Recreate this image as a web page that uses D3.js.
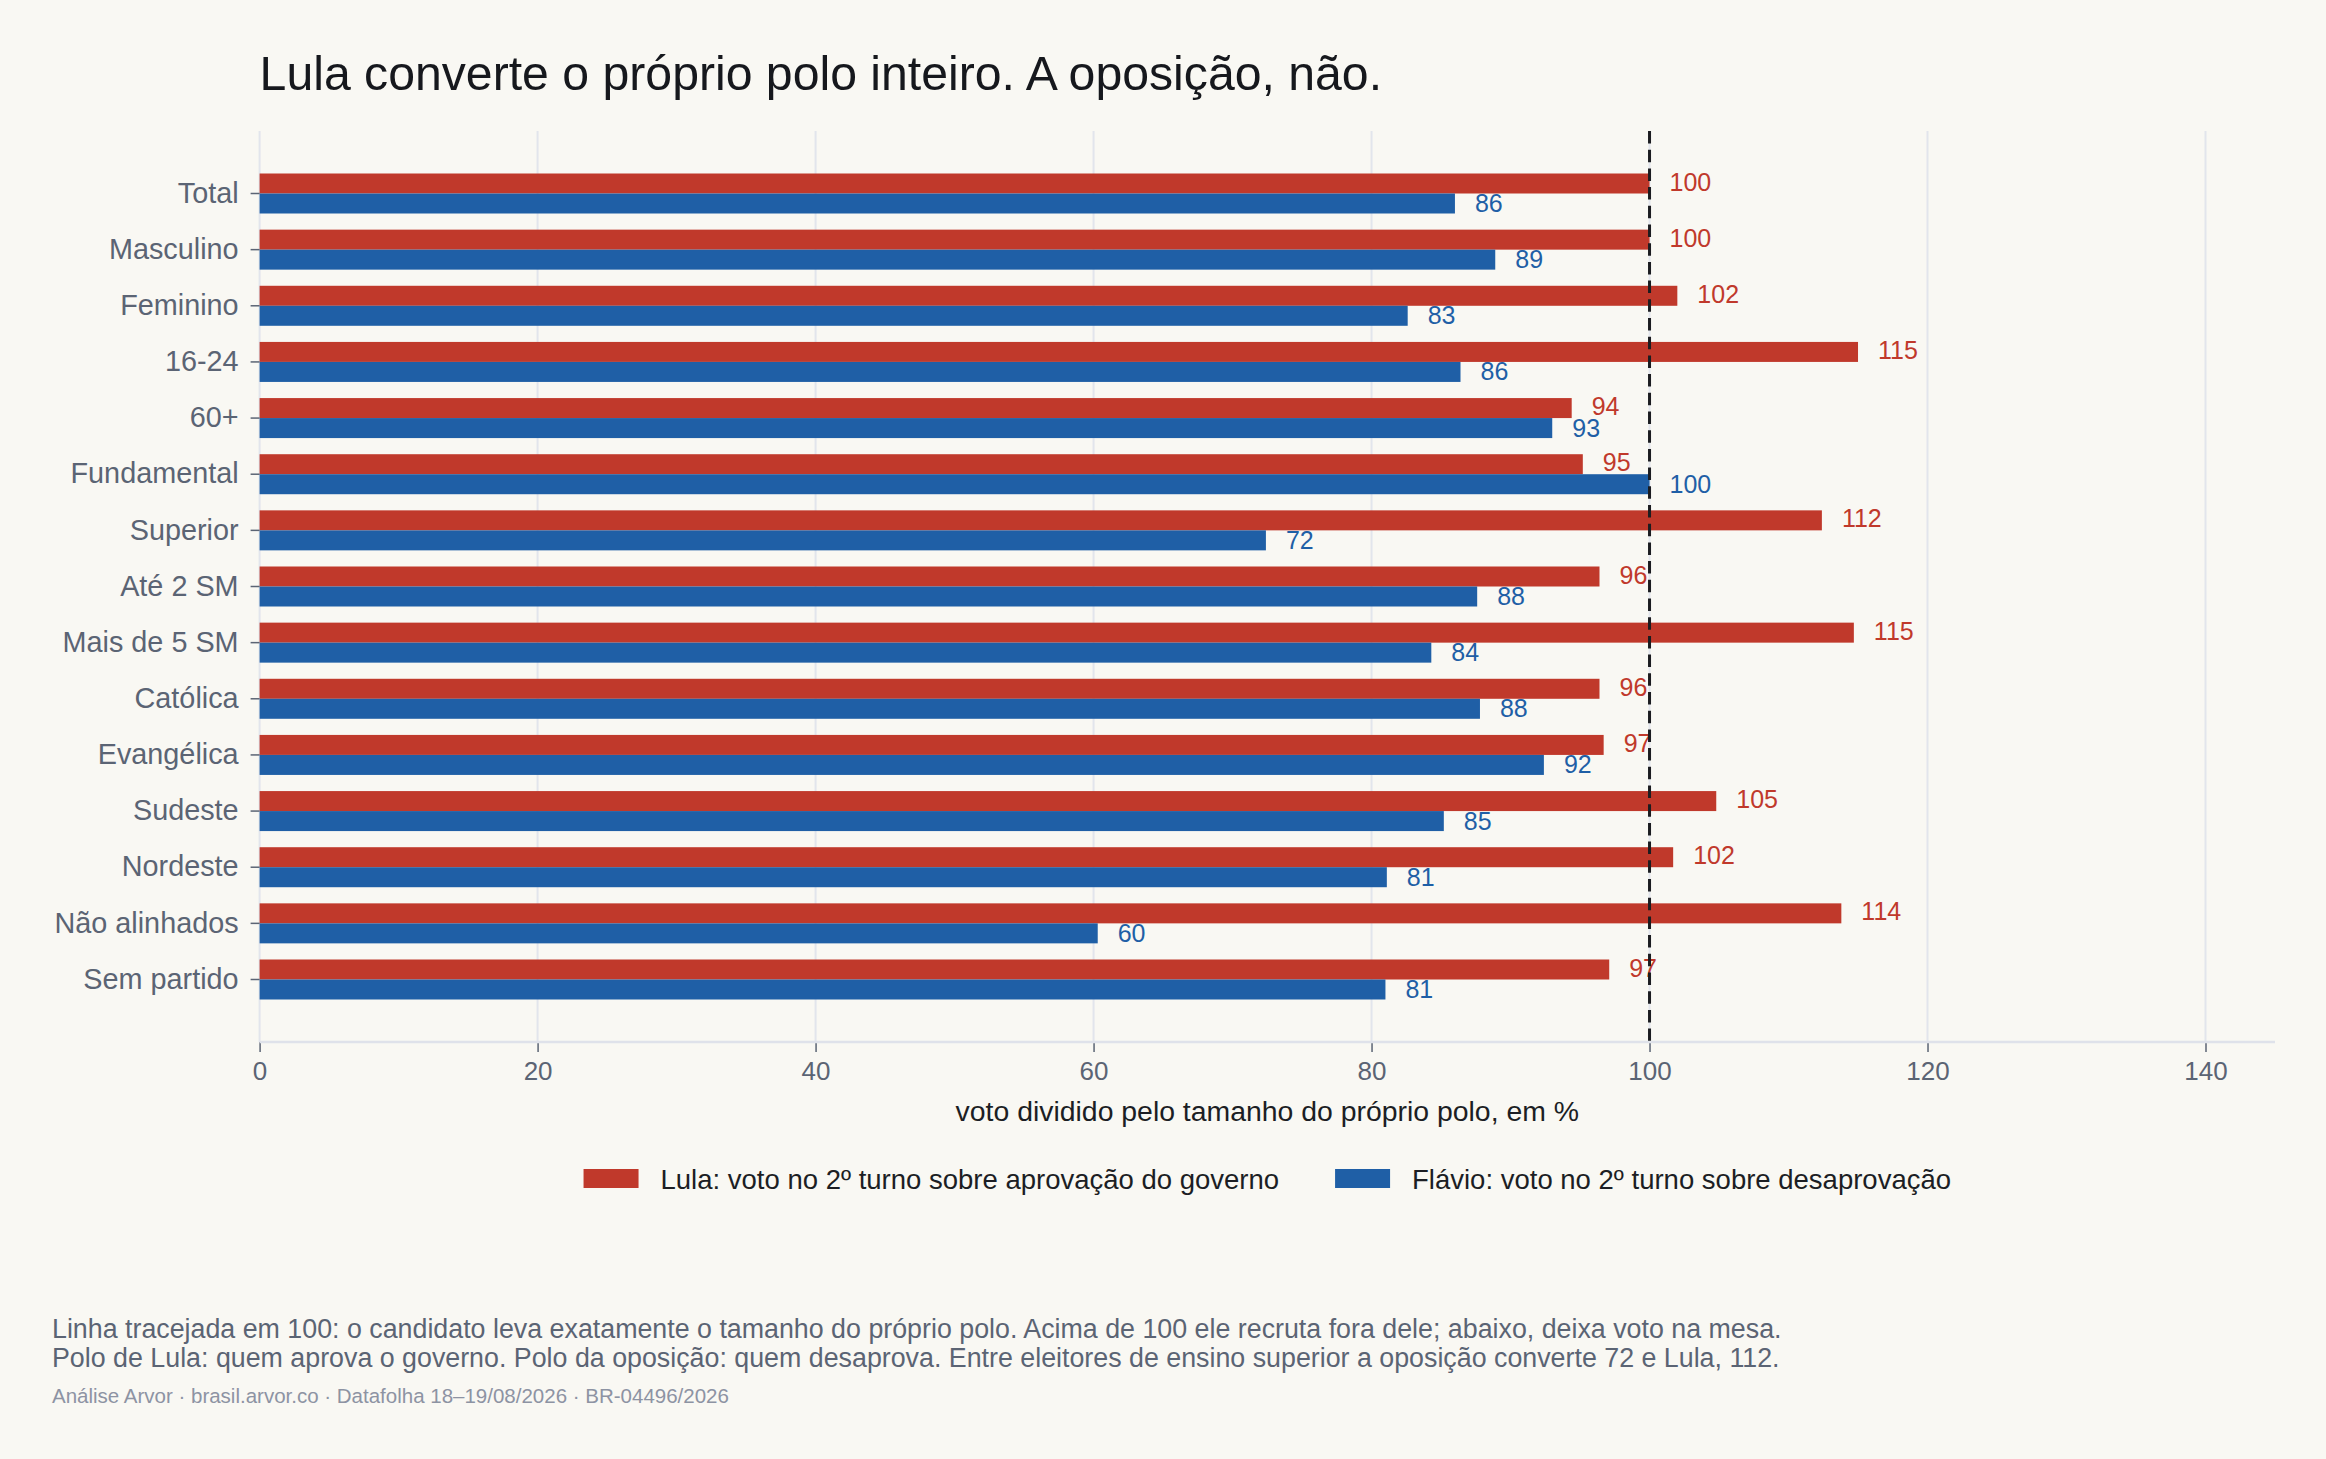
<!DOCTYPE html>
<html>
<head>
<meta charset="utf-8">
<script src="https://cdn.jsdelivr.net/npm/d3@7"></script>
<style>
  html, body { margin: 0; padding: 0; background: #f9f8f3; }
  svg { display: block; }
  text { font-family: "Liberation Sans", Arial, Helvetica, sans-serif; }
</style>
</head>
<body>
<script>
// ---- data ----
const categories = ["Total", "Masculino", "Feminino", "16-24", "60+", "Fundamental", "Superior",
  "Até 2 SM", "Mais de 5 SM", "Católica", "Evangélica", "Sudeste", "Nordeste", "Não alinhados", "Sem partido"];
const lulaValues   = [100.0, 100.0, 102.0, 115.0, 94.4, 95.2, 112.4, 96.4, 114.7, 96.4, 96.7, 104.8, 101.7, 113.8, 97.1];
const flavioValues = [86.0, 88.9, 82.6, 86.4, 93.0, 100.0, 72.4, 87.6, 84.3, 87.8, 92.4, 85.2, 81.1, 60.3, 81.0];
const seriesNames = ["Lula: voto no 2º turno sobre aprovação do governo", "Flávio: voto no 2º turno sobre desaprovação"];
const xTicks = [0, 20, 40, 60, 80, 100, 120, 140];
const referenceValue = 100;
const titleText = "Lula converte o próprio polo inteiro. A oposição, não.";
const xAxisTitle = "voto dividido pelo tamanho do próprio polo, em %";
const footerLines = [
  "Linha tracejada em 100: o candidato leva exatamente o tamanho do próprio polo. Acima de 100 ele recruta fora dele; abaixo, deixa voto na mesa.",
  "Polo de Lula: quem aprova o governo. Polo da oposição: quem desaprova. Entre eleitores de ensino superior a oposição converte 72 e Lula, 112."
];
const sourceText = "Análise Arvor · brasil.arvor.co · Datafolha 18–19/08/2026 · BR-04496/2026";

// ---- layout ----
const W = 2326, H = 1459;
const plot = { left: 259.6, right: 2275, top: 131, bottom: 1042 };
const colors = { lula: "#c0392b", flavio: "#1f5fa6" };
const seriesKeys = ["lula", "flavio"];

const rows = categories.map((c, i) => ({ cat: c, lula: lulaValues[i], flavio: flavioValues[i] }));

const svg = d3.select("body").append("svg").attr("width", W).attr("height", H);
svg.append("rect").attr("width", W).attr("height", H).attr("fill", "#f9f8f3");

const x = d3.scaleLinear().domain([0, 145]).range([plot.left, plot.right]);
const y = d3.scaleBand().domain(categories).range([plot.top, plot.bottom])
  .paddingInner(0.2875).paddingOuter(0.757);
const ySub = d3.scaleBand().domain(seriesKeys).range([0, y.bandwidth()]);

// title
svg.append("text").attr("x", plot.left).attr("y", 90)
  .attr("font-size", 48.2).attr("fill", "#16181d").text(titleText);

// grid
svg.append("g").selectAll("line").data(xTicks).join("line")
  .attr("x1", d => x(d)).attr("x2", d => x(d))
  .attr("y1", plot.top).attr("y2", plot.bottom)
  .attr("stroke", "#e2e5ec").attr("stroke-width", 2);

// bars
const groups = svg.append("g").selectAll("g").data(rows).join("g")
  .attr("transform", d => `translate(0,${y(d.cat)})`);
groups.selectAll("rect").data(d => seriesKeys.map(k => ({ key: k, value: d[k] }))).join("rect")
  .attr("x", x(0))
  .attr("y", d => ySub(d.key))
  .attr("width", d => x(d.value) - x(0))
  .attr("height", ySub.bandwidth())
  .attr("fill", d => colors[d.key]);

// reference dashed line
svg.append("line")
  .attr("x1", x(referenceValue)).attr("x2", x(referenceValue))
  .attr("y1", plot.top).attr("y2", plot.bottom)
  .attr("stroke", "#1b1c20").attr("stroke-width", 3)
  .attr("stroke-dasharray", "12.5,6.2");

// value labels
groups.selectAll("text.val").data(d => seriesKeys.map(k => ({ key: k, value: d[k] }))).join("text")
  .attr("class", "val")
  .attr("x", d => x(d.value) + 20)
  .attr("y", d => ySub(d.key) + ySub.bandwidth() / 2 + (d.key === "lula" ? 7 : 8.5))
  .attr("font-size", 25)
  .attr("fill", d => colors[d.key])
  .text(d => d3.format(".0f")(d.value));

// x axis
const xAxis = svg.append("g").attr("transform", `translate(0,${plot.bottom})`)
  .call(d3.axisBottom(x).tickValues(xTicks).tickSize(10).tickPadding(10).tickFormat(d3.format("d")));
xAxis.select(".domain").remove();
xAxis.selectAll(".tick line").attr("stroke", "#5b6474").attr("stroke-width", 1.5);
xAxis.selectAll(".tick text").attr("font-size", 26).attr("fill", "#5b6474")
  .attr("font-family", "Liberation Sans, Arial, sans-serif");
svg.append("line").attr("x1", plot.left).attr("x2", plot.right)
  .attr("y1", plot.bottom).attr("y2", plot.bottom)
  .attr("stroke", "#dfe2ea").attr("stroke-width", 2.5);

// y axis
const yAxis = svg.append("g").attr("transform", `translate(${plot.left},0)`)
  .call(d3.axisLeft(y).tickSize(9).tickPadding(12));
yAxis.select(".domain").remove();
yAxis.selectAll(".tick line").attr("stroke", "#5b6474").attr("stroke-width", 1.5);
yAxis.selectAll(".tick text").attr("font-size", 28.8).attr("fill", "#5b6474")
  .attr("font-family", "Liberation Sans, Arial, sans-serif");

// x axis title
svg.append("text").attr("x", (plot.left + plot.right) / 2).attr("y", 1121)
  .attr("text-anchor", "middle").attr("font-size", 28.4).attr("fill", "#1c1e24").text(xAxisTitle);

// legend
const legend = svg.append("g");
const legendItems = legend.selectAll("g").data(seriesKeys).join("g");
legendItems.append("rect").attr("width", 55).attr("height", 19).attr("y", 1169)
  .attr("fill", d => colors[d]);
legendItems.append("text").attr("y", 1189).attr("font-size", 27.5).attr("fill", "#1c1e24")
  .text((d, i) => seriesNames[i]);
let widths = [];
legendItems.each(function () { widths.push(d3.select(this).select("text").node().getComputedTextLength()); });
const swatchGap = 22, itemGap = 56;
const total = widths.reduce((a, w) => a + 55 + swatchGap + w, 0) + itemGap * (widths.length - 1);
let cx = (plot.left + plot.right) / 2 - total / 2;
legendItems.each(function (d, i) {
  const g = d3.select(this);
  g.select("rect").attr("x", cx);
  g.select("text").attr("x", cx + 55 + swatchGap);
  cx += 55 + swatchGap + widths[i] + itemGap;
});

// footer
svg.append("g").selectAll("text").data(footerLines).join("text")
  .attr("x", 52).attr("y", (d, i) => 1338 + i * 28.5)
  .attr("font-size", 26.8).attr("fill", "#5b6474").text(d => d);
svg.append("text").attr("x", 52).attr("y", 1403)
  .attr("font-size", 20.5).attr("fill", "#8d93a3").text(sourceText);
</script>
</body>
</html>
